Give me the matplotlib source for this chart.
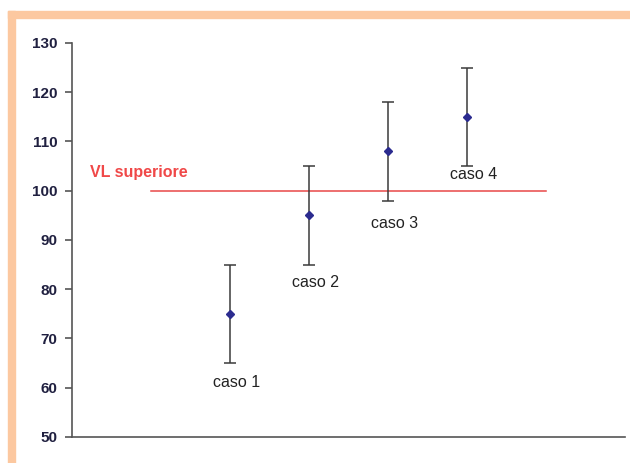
import matplotlib
matplotlib.use('Agg')
import matplotlib.pyplot as plt
from matplotlib.patches import Rectangle
import numpy as np

# data
casi = ['caso 1', 'caso 2', 'caso 3', 'caso 4']
x_pos = [2, 3, 4, 5]
valori = [75, 95, 108, 115]
errori = [10, 10, 10, 10]
vl_sup = 100
vl_x = [1, 6]
label_y = [61, 81.3, 93.3, 103.2]

plt.rcParams['font.family'] = ['Liberation Sans', 'DejaVu Sans']

W, H = 630, 463
fig = plt.figure(figsize=(W/100, H/100), dpi=100)

# peach frame (top and left bands)
peach = '#fcc8a0'
fig.patches.append(Rectangle((8/W, 1-18/H), 1, 7/H, transform=fig.transFigure,
                             color=peach, zorder=0))
fig.patches.append(Rectangle((8/W, 0), 7/W, 1-11/H, transform=fig.transFigure,
                             color=peach, zorder=0))

ax = fig.add_axes([72/W, 26/H, (625-72)/W, (437-43)/H])
ax.set_xlim(0, 7)
ax.set_ylim(50, 130)

ax.errorbar(x_pos, valori, yerr=errori, fmt='D', color='#2b2b8f', markersize=4,
            ecolor='#3a3a3a', elinewidth=1.1, capsize=4, capthick=1.1, zorder=3)
ax.plot(vl_x, [vl_sup, vl_sup], color='#e84848', lw=1.1, zorder=2)
ax.text(0.23, vl_sup + 3.8, 'VL superiore', color='#f04848', fontsize=11.5,
        fontweight='bold', va='center', ha='left')

for xi, yi, lab in zip(x_pos, label_y, casi):
    ax.text(xi + 0.08, yi, lab, fontsize=11.5, ha='center', va='center', color='#222222')

ax.set_yticks(np.arange(50, 131, 10))
ax.set_xticks([])
for s in ['top', 'right']:
    ax.spines[s].set_visible(False)
for s in ['left', 'bottom']:
    ax.spines[s].set_color('#555555')
    ax.spines[s].set_linewidth(1.2)
ax.tick_params(axis='y', direction='out', length=5, width=1.2, color='#555555',
               labelsize=11, labelcolor='#202040', pad=5.5)
for t in ax.get_yticklabels():
    t.set_fontweight('bold')

fig.savefig('out.png', dpi=100)
